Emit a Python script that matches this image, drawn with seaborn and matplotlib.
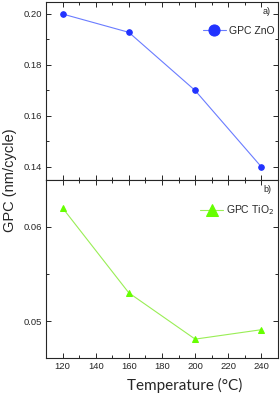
import seaborn as sns
import matplotlib.pyplot as plt
import pandas as pd
from matplotlib.ticker import MultipleLocator

sns.set_style("ticks")
plt.rcParams["font.family"] = ["Liberation Sans", "DejaVu Sans"]

# data
temperature = [120, 160, 200, 240]
gpc_zno = [0.200, 0.1928, 0.170, 0.140]
gpc_tio2 = [0.0620, 0.0530, 0.0481, 0.0491]

zno = pd.DataFrame({"T": temperature, "GPC": gpc_zno})
tio2 = pd.DataFrame({"T": temperature, "GPC": gpc_tio2})

fig = plt.figure(figsize=(2.8, 3.97), dpi=100)
ax1 = fig.add_axes([0.164, 0.5466, 0.829, 0.4484])
ax2 = fig.add_axes([0.164, 0.0982, 0.829, 0.4484], sharex=ax1)

sns.lineplot(data=zno, x="T", y="GPC", ax=ax1, color="#6a7cff", lw=0.8,
             marker="o", markersize=4, markerfacecolor="#2233ff",
             markeredgecolor="#2233ff", label="GPC ZnO")
sns.lineplot(data=tio2, x="T", y="GPC", ax=ax2, color="#99ee55", lw=0.8,
             marker="^", markersize=4.5, markerfacecolor="#66ff00",
             markeredgecolor="#66ff00", label="GPC TiO$_2$")

ax1.set_xlim(110, 250)
ax1.set_ylim(0.1349, 0.2047)
ax2.set_ylim(0.0461, 0.06495)

ax1.yaxis.set_major_locator(MultipleLocator(0.02))
ax1.yaxis.set_minor_locator(MultipleLocator(0.01))
ax2.yaxis.set_major_locator(MultipleLocator(0.01))
ax2.yaxis.set_minor_locator(MultipleLocator(0.005))
ax2.xaxis.set_major_locator(MultipleLocator(20))
ax2.xaxis.set_minor_locator(MultipleLocator(10))
ax1.yaxis.set_major_formatter(plt.FormatStrFormatter("%.2f"))
ax2.yaxis.set_major_formatter(plt.FormatStrFormatter("%.2f"))

for ax in (ax1, ax2):
    ax.tick_params(which="both", direction="in", top=True, right=True,
                   labelsize=6.8, width=0.7, pad=3)
    ax.tick_params(which="major", length=3.5)
    ax.tick_params(which="minor", length=2)
    for s in ax.spines.values():
        s.set_linewidth(0.8)
    ax.set_xlabel("")
    ax.set_ylabel("")
    ax.legend(loc="upper right", bbox_to_anchor=(1.025, 0.92), frameon=False,
              fontsize=7.5, handlelength=2.2, handletextpad=0.3,
              markerscale=2)
ax1.tick_params(labelbottom=False)

ax1.text(0.97, 0.97, "a)", transform=ax1.transAxes, ha="right", va="top", fontsize=6.5)
ax2.text(0.97, 0.97, "b)", transform=ax2.transAxes, ha="right", va="top", fontsize=6.5)

fig.text(0.035, 0.547, "GPC (nm/cycle)", rotation=90, ha="center", va="center",
         fontsize=10.5)
fig.text(0.66, 0.03, "Temperature (°C)", ha="center", va="center",
         fontsize=11, family=["Lato", "Liberation Sans", "DejaVu Sans"])

fig.savefig("out.png", dpi=100)
